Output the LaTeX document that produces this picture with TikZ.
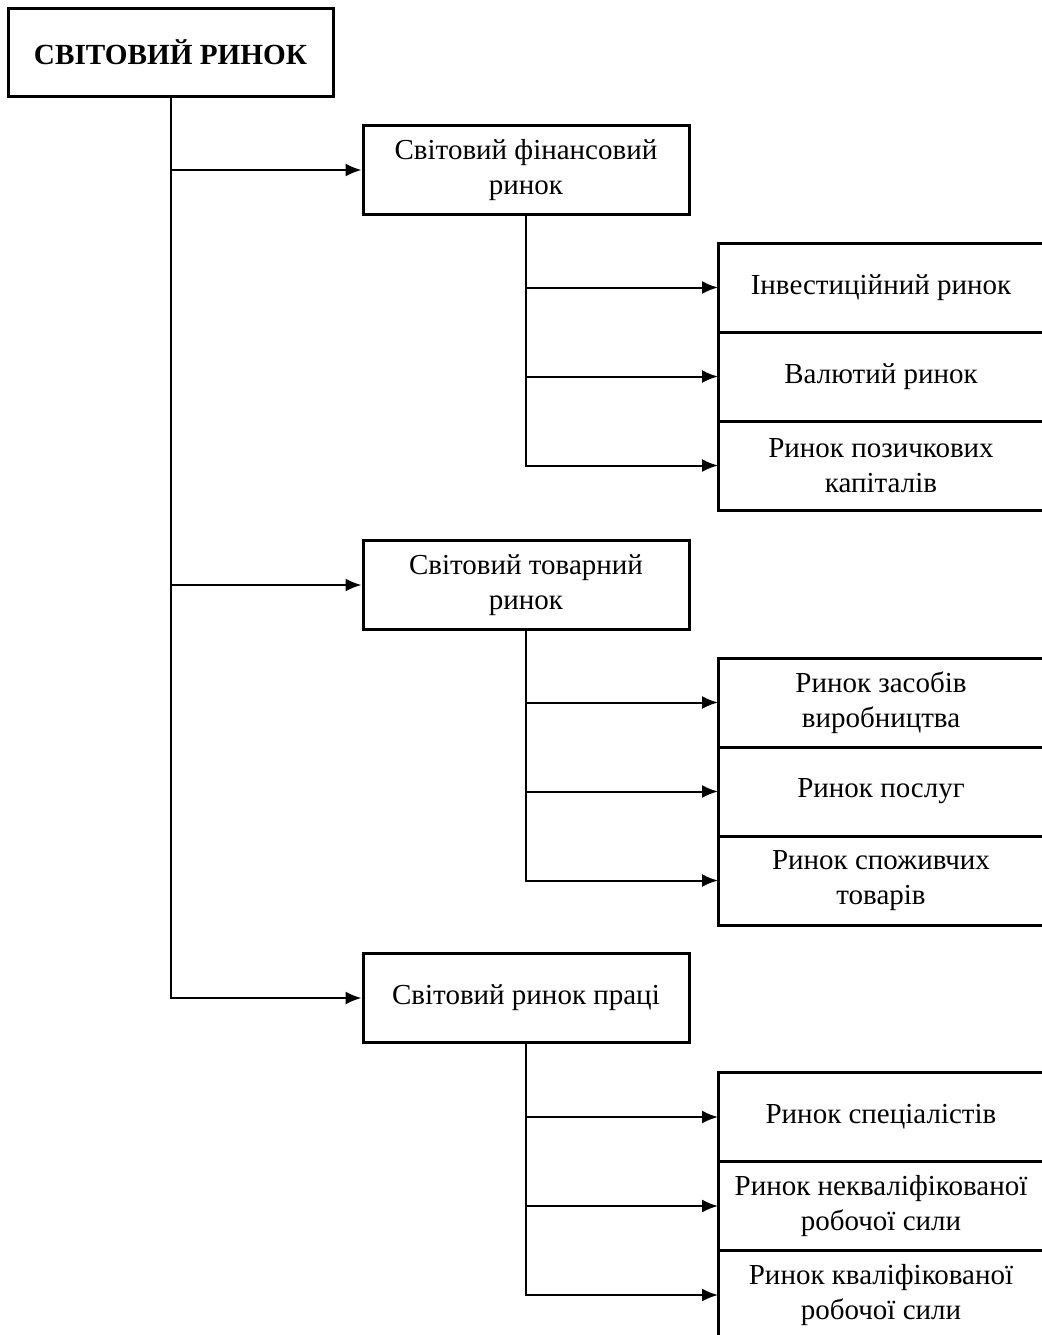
\documentclass[tikz,border=0pt]{standalone}
\usepackage{fontspec}
\setmainfont{Liberation Serif}
\usetikzlibrary{arrows.meta, positioning}

\begin{document}
\begin{tikzpicture}[
    x=0.5pt, y=-0.5pt,
    font=\fontsize{14.5}{17.5}\selectfont,
    root/.style={rectangle, minimum width=162.5pt, minimum height=44pt, text centered, draw=black, line width=1.5pt, font=\fontsize{14.6}{17.5}\selectfont\bfseries},
    group/.style={rectangle, minimum width=163pt, minimum height=44.5pt, align=center, draw=black, line width=1.5pt},
    leaf/.style={rectangle, minimum width=163pt, minimum height=44.5pt, align=center, draw=black, line width=1.5pt, outer sep=0pt},
    arrow/.style={line width=1pt,->,>={Latex[length=8pt,width=6.5pt]}}
]
\useasboundingbox (0,0) rectangle (1042,1335);

\node (root) [root] at (170.5,52) {СВІТОВИЙ РИНОК};

\node (fin) [group] at (526,170) {Світовий фінансовий\\ринок};
\node (tov) [group] at (526,585) {Світовий товарний\\ринок};
\node (pr) [group] at (526,998) {Світовий ринок праці};

% financial market
\node (inv) [leaf] at (881,287.5) {Інвестиційний ринок};
\node (val) [leaf, below=0pt of inv] {Валютий ринок};
\node (poz) [leaf, below=0pt of val] {Ринок позичкових\\капіталів};

% commodity market
\node (zas) [leaf] at (881,702.5) {Ринок засобів\\виробництва};
\node (pos) [leaf, below=0pt of zas] {Ринок послуг};
\node (spo) [leaf, below=0pt of pos] {Ринок споживчих\\товарів};

% labour market
\node (spe) [leaf] at (881,1117) {Ринок спеціалістів};
\node (nekv) [leaf, below=0pt of spe] {Ринок некваліфікованої\\робочої сили};
\node (kv) [leaf, below=0pt of nekv] {Ринок кваліфікованої\\робочої сили};

\draw [arrow] (root.south) |- (fin.west);
\draw [arrow] (root.south) |- (tov.west);
\draw [arrow] (root.south) |- (pr.west);

\draw [arrow] (fin.south) |- (inv.west);
\draw [arrow] (fin.south) |- (val.west);
\draw [arrow] (fin.south) |- (poz.west);

\draw [arrow] (tov.south) |- (zas.west);
\draw [arrow] (tov.south) |- (pos.west);
\draw [arrow] (tov.south) |- (spo.west);

\draw [arrow] (pr.south) |- (spe.west);
\draw [arrow] (pr.south) |- (nekv.west);
\draw [arrow] (pr.south) |- (kv.west);

\end{tikzpicture}
\end{document}
